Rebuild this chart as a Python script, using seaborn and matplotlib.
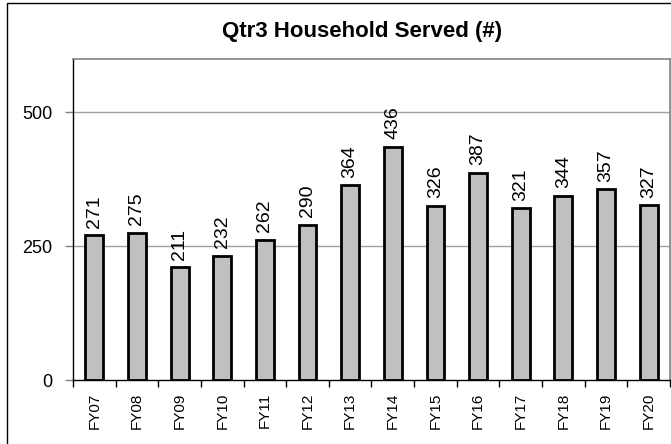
import matplotlib
matplotlib.use('Agg')
import matplotlib.pyplot as plt
import seaborn as sns
import pandas as pd
from matplotlib.patches import Rectangle

years = ['FY07', 'FY08', 'FY09', 'FY10', 'FY11', 'FY12', 'FY13',
         'FY14', 'FY15', 'FY16', 'FY17', 'FY18', 'FY19', 'FY20']
served = [271, 275, 211, 232, 262, 290, 364, 436, 326, 387, 321, 344, 357, 327]
yticks = [0, 250, 500]

df = pd.DataFrame({'year': years, 'served': served})

sns.set_style('white')
plt.rcParams['font.family'] = ['Liberation Sans', 'DejaVu Sans']
plt.rcParams['text.color'] = 'black'
plt.rcParams['xtick.color'] = 'black'
plt.rcParams['ytick.color'] = 'black'

fig = plt.figure(figsize=(6.71, 4.44), dpi=100)
W, H = 671, 444
ax = fig.add_axes([73 / W, (H - 380) / H, (670 - 73) / W, (380 - 59) / H])

sns.barplot(data=df, x='year', y='served', color='#C0C0C0', saturation=1,
            edgecolor='black', linewidth=2, width=0.42, ax=ax)

# value labels above bars
for i, v in enumerate(served):
    ax.text(i, v + 14, str(v), rotation=90, ha='center', va='bottom', fontsize=14)

ax.set_ylim(0, 600)
ax.set_xlim(-0.5, 13.42)
ax.set_yticks(yticks)
ax.set_yticklabels([str(t) for t in yticks], fontsize=13)
ax.tick_params(axis='y', length=6, width=1, color='#808080', left=True, pad=9)
ax.set_xticks(range(len(years)))
ax.set_xticklabels(years, rotation=90, fontsize=11)
ax.set_xticks([i + 0.5 for i in range(-1, len(years))], minor=True)
ax.tick_params(axis='x', which='major', length=0, pad=9)
ax.tick_params(axis='x', which='minor', length=5, width=1, color='black', bottom=True)
for t in yticks[1:]:
    ax.axhline(t, color='#a0a0a0', lw=1, zorder=0)
ax.set_xlabel('')
ax.set_ylabel('')

for s in ['top', 'right']:
    ax.spines[s].set_color('#808080')
    ax.spines[s].set_linewidth(1.2)
ax.spines['left'].set_color('black')
ax.spines['left'].set_linewidth(1)
ax.spines['bottom'].set_color('black')
ax.spines['bottom'].set_linewidth(1)

fig.text(362 / W, 1 - 31 / H, 'Qtr3 Household Served (#)', ha='center', va='center',
         fontsize=16, fontweight='bold')

fig.patches.append(Rectangle((7 / W, -0.05), 1.0, 1 - 3 / H + 0.05, transform=fig.transFigure,
                             fill=False, edgecolor='black', lw=1))

fig.savefig('out.png', dpi=100)
